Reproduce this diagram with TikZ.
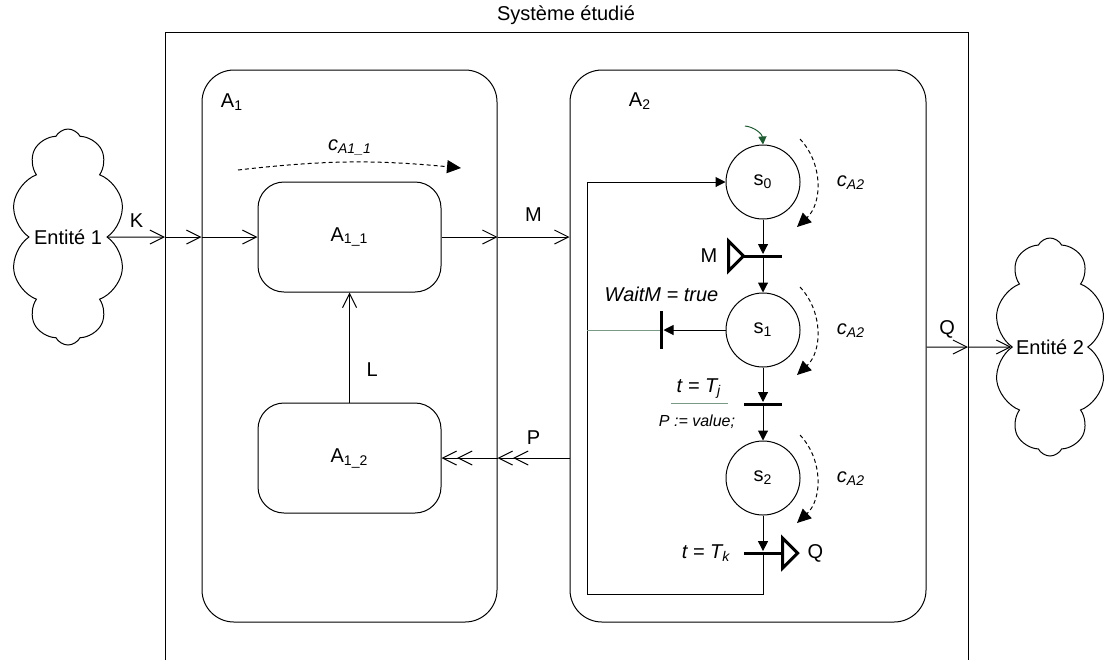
\documentclass[tikz,border=0pt]{standalone}
\usepackage{fontspec}
\setmainfont{Liberation Sans}
\usepackage{xcolor}
\usetikzlibrary{arrows.meta,shapes.symbols,positioning}

\definecolor{startgreen}{HTML}{1E5A32}
\definecolor{lnkgreen}{HTML}{7A9A88}

\begin{document}
\begin{tikzpicture}[
  x=0.5pt, y=-0.5pt,
  font=\fontsize{10}{12}\selectfont,
  line width=0.5pt,
  node distance = 36.5pt,
  activity/.style = {draw, rounded corners=16pt,
                     minimum height=276pt},
  block/.style    = {draw, rounded corners=13pt,
                     minimum width=91.5pt,
                     minimum height=55pt,
                     inner sep=0pt},
  entity/.style   = {cloud, draw, cloud puffs=10,
                     cloud puff arc=125,
                     cloud ignores aspect,
                     inner sep=0pt},
  place/.style    = {circle, draw, minimum size=37pt, inner sep=0pt},
  tbar/.style     = {fill, inner sep=0pt, minimum width=19pt, minimum height=1.5pt},
  vbar/.style     = {fill, inner sep=0pt, minimum width=1.5pt, minimum height=19pt},
  flow/.style     = {-{Straight Barb[length=7pt,width=7pt]}},
  dflow/.style    = {-{Straight Barb[length=7pt,width=7pt] Straight Barb[length=7pt,width=7pt]}},
  parc/.style     = {-{Triangle[length=5pt,width=5pt]}},
  cdash/.style    = {dash pattern=on 2pt off 1.5pt, -{Triangle[length=7pt,width=6.5pt]}},
  ptri/.style     = {line width=1.5pt, line join=miter},
  gline/.style    = {draw=lnkgreen},
  startarc/.style = {draw=startgreen, -{Triangle[length=4pt,width=4pt]}}
]

\useasboundingbox (0,0) rectangle (1106,660);

% studied system
\node (title) at (566,15) {Système étudié};
\draw (165,660) |- (968,32) -- (968,660);

% activities A1 and A2
\node[activity, minimum width=147.5pt] (A1) at (349.5,346) {};
\node[activity, minimum width=178pt]   (A2) at (748,346) {};
\node (A1lab) at (232,102) {A\textsubscript{1}};
\node (A2lab) at (640,101) {A\textsubscript{2}};

\node[block] (A11) at (349.5,237) {A\textsubscript{1\_1}};
\node[block, below=55pt of A11] (A12) {A\textsubscript{1\_2}};

% cycle of A1_1
\coordinate (cA1s) at (238,170);
\coordinate (cA1e) at (461,168);
\draw[cdash] (cA1s) to[bend left=6] (cA1e);
\node (cA1lab) at (350,147) {\textit{c\textsubscript{A1\_1}}};

% environment
\node[entity, minimum width=57pt, minimum height=108pt] (E1) at (68,237) {Entité 1};
\node[entity, minimum width=56pt, minimum height=109pt] (E2) at (1050,347) {Entité 2};

% crossing points on the borders
\coordinate (sysK) at (165,237);
\coordinate (a1K)  at (A1.west |- A11.west);
\coordinate (a1M)  at (A1.east |- A11.east);
\coordinate (a2M)  at (A2.west |- A11.east);
\coordinate (a2P)  at (A2.west |- A12.east);
\coordinate (a1P)  at (A1.east |- A12.east);
\coordinate (a2Q)  at (A2.east |- E2.west);
\coordinate (sysQ) at (968,347);

\draw[flow] (E1)   -- node[above=1pt] (K) {K} (sysK);
\draw[flow] (sysK) -- (a1K);
\draw[flow] (a1K)  -- (A11);
\draw[flow] (A11)  -- (a1M);
\draw[flow] (a1M)  -- node[above=4pt] (M) {M} (a2M);
\draw[dflow] (a2P) -- node[above=3pt] (P) {P} (a1P);
\draw[dflow] (a1P) -- (A12);
\draw[flow] (A12)  -- node[right=5pt, pos=0.3] (L) {L} (A11);
\draw[flow] (a2Q)  -- node[above=1pt] (Q) {Q} (sysQ);
\draw[flow] (sysQ) -- (E2);

% state machine of A2
\node[place] (s0) at (763,182) {s\textsubscript{0}};
\node[place, below=of s0] (s1) {s\textsubscript{1}};
\node[place, below=of s1] (s2) {s\textsubscript{2}};

\path (s0) -- node[tbar] (t0) {} (s1);
\path (s1) -- node[tbar] (t1) {} (s2);
\node[tbar, below=17.8pt of s2] (t2) {};
\node[vbar, left=31pt of s1] (tw) {};

\draw[startarc] ([shift={(-18,-56)}]s0.center) to[bend left=40] (s0.north);

\draw[parc] (s0) -- (t0);
\draw[parc] (t0) -- (s1);
\draw[parc] (s1) -- (t1);
\draw[parc] (t1) -- (s2);
\draw[parc] (s2) -- (t2);
\draw[parc] (s1) -- (tw);

\coordinate (loopB) at (587,594);
\draw[parc] (t2.center) |- (loopB) |- (s0);
\draw[gline] (tw) -- (tw -| loopB);

% input M and output Q
\draw[ptri] (t0.west) -- ++(-15,-15) -- ++(0,30) -- cycle;
\node[left=9.5pt of t0.west] (Min) {M};
\draw[ptri] (t2.east) -- ++(0,-15) -- ++(15,15) -- ++(-15,15) -- cycle;
\node[right=9pt of t2.east] (Qout) {Q};

% guards and actions
\node[above=1pt of tw] (wait) {\textit{WaitM = true}};
\node[anchor=south, inner sep=2pt, minimum width=28pt] (tj) at (699,403) {\textit{t = T\textsubscript{j}}};
\draw[gline] (tj.south west) -- (tj.south east);
\node[font=\fontsize{8}{10}\selectfont] (act) at (697,422) {\textit{P := value;}};
\node[left=3pt of t2.west] (tk) {\textit{t = T\textsubscript{k}}};

% cycles of A2
\foreach \s in {s0,s1,s2} {
  \draw[cdash] ([shift={(37,-43)}]\s.center) to[bend left=45] ([shift={(34,45)}]\s.center);
  \node (c\s) at ([shift={(88,1)}]\s.center) {\textit{c\textsubscript{A2}}};
}

\end{tikzpicture}
\end{document}
